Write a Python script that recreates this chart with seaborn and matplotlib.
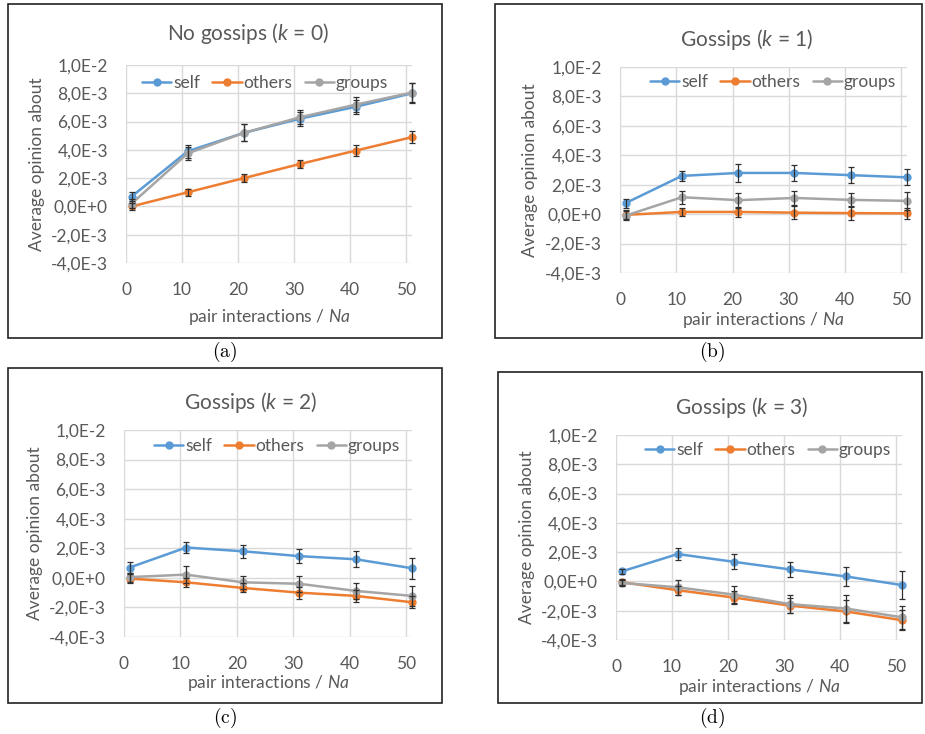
import pandas as pd
import seaborn as sns
import matplotlib.pyplot as plt
from matplotlib.patches import Rectangle

# ---- data ----
x_vals = [1, 11, 21, 31, 41, 51]
series_names = ["self", "others", "groups"]
panel_titles = ["No gossips ($k$ = 0)", "Gossips ($k$ = 1)",
                "Gossips ($k$ = 2)", "Gossips ($k$ = 3)"]
captions = ["(a)", "(b)", "(c)", "(d)"]
x_ticks = [0, 10, 20, 30, 40, 50]
y_ticks = [-4e-3, -2e-3, 0.0, 2e-3, 4e-3, 6e-3, 8e-3, 1e-2]
y_ticklabels = ["-4,0E-3", "-2,0E-3", "0,0E+0", "2,0E-3",
                "4,0E-3", "6,0E-3", "8,0E-3", "1,0E-2"]

# k = 0
k0_self = [0.70e-3, 3.90e-3, 5.20e-3, 6.20e-3, 7.05e-3, 8.00e-3]
k0_self_err = [0.30e-3, 0.45e-3, 0.60e-3, 0.50e-3, 0.50e-3, 0.70e-3]
k0_others = [0.00e-3, 1.00e-3, 2.00e-3, 3.00e-3, 3.95e-3, 4.90e-3]
k0_others_err = [0.25e-3, 0.25e-3, 0.30e-3, 0.30e-3, 0.40e-3, 0.40e-3]
k0_groups = [0.20e-3, 3.75e-3, 5.20e-3, 6.30e-3, 7.20e-3, 8.05e-3]
k0_groups_err = [0.30e-3, 0.45e-3, 0.60e-3, 0.50e-3, 0.55e-3, 0.70e-3]

# k = 1
k1_self = [0.75e-3, 2.60e-3, 2.80e-3, 2.80e-3, 2.65e-3, 2.50e-3]
k1_self_err = [0.30e-3, 0.35e-3, 0.60e-3, 0.55e-3, 0.55e-3, 0.55e-3]
k1_others = [-0.05e-3, 0.15e-3, 0.15e-3, 0.10e-3, 0.07e-3, 0.05e-3]
k1_others_err = [0.30e-3, 0.30e-3, 0.35e-3, 0.45e-3, 0.45e-3, 0.40e-3]
k1_groups = [-0.10e-3, 1.15e-3, 0.95e-3, 1.10e-3, 0.97e-3, 0.90e-3]
k1_groups_err = [0.30e-3, 0.45e-3, 0.50e-3, 0.50e-3, 0.50e-3, 0.60e-3]

# k = 2
k2_self = [0.70e-3, 2.05e-3, 1.80e-3, 1.47e-3, 1.26e-3, 0.65e-3]
k2_self_err = [0.35e-3, 0.40e-3, 0.45e-3, 0.45e-3, 0.55e-3, 0.70e-3]
k2_others = [-0.05e-3, -0.30e-3, -0.68e-3, -1.00e-3, -1.22e-3, -1.65e-3]
k2_others_err = [0.30e-3, 0.30e-3, 0.30e-3, 0.40e-3, 0.40e-3, 0.40e-3]
k2_groups = [0.05e-3, 0.22e-3, -0.30e-3, -0.40e-3, -0.88e-3, -1.22e-3]
k2_groups_err = [0.30e-3, 0.55e-3, 0.45e-3, 0.55e-3, 0.55e-3, 0.70e-3]

# k = 3
k3_self = [0.68e-3, 1.87e-3, 1.34e-3, 0.82e-3, 0.34e-3, -0.25e-3]
k3_self_err = [0.20e-3, 0.40e-3, 0.50e-3, 0.50e-3, 0.65e-3, 0.95e-3]
k3_others = [-0.05e-3, -0.60e-3, -1.10e-3, -1.65e-3, -2.05e-3, -2.65e-3]
k3_others_err = [0.20e-3, 0.30e-3, 0.45e-3, 0.50e-3, 0.80e-3, 0.70e-3]
k3_groups = [-0.10e-3, -0.40e-3, -0.90e-3, -1.55e-3, -1.85e-3, -2.45e-3]
k3_groups_err = [0.20e-3, 0.50e-3, 0.60e-3, 0.60e-3, 0.90e-3, 0.80e-3]

panels = [
    (k0_self, k0_self_err, k0_others, k0_others_err, k0_groups, k0_groups_err),
    (k1_self, k1_self_err, k1_others, k1_others_err, k1_groups, k1_groups_err),
    (k2_self, k2_self_err, k2_others, k2_others_err, k2_groups, k2_groups_err),
    (k3_self, k3_self_err, k3_others, k3_others_err, k3_groups, k3_groups_err),
]

colors = {"self": "#5B9BD5", "others": "#ED7D31", "groups": "#A5A5A5"}
text_col = "#595959"

# ---- layout in pixels (925 x 734 canvas) ----
W, H = 925, 734
# frame box, axes box (left, top, right, bottom), title (x, y), ylabel x, xlabel y, legend center, caption
layout = [
    dict(frame=(8, 4, 442, 338), ax=(126, 412, 65, 263), title=(248, 33), ylab=37, xlab=317, leg=(265, 83), cap=(225, 352)),
    dict(frame=(495, 4, 922, 338), ax=(620, 907, 67, 273), title=(747, 40), ylab=530, xlab=320, leg=(773, 82), cap=(712, 352)),
    dict(frame=(8, 368, 442, 703), ax=(124, 412, 430, 637), title=(251, 403), ylab=35, xlab=683, leg=(277, 446), cap=(225, 718)),
    dict(frame=(498, 372, 922, 703), ax=(616, 902, 435, 640), title=(742, 408), ylab=527, xlab=687, leg=(768, 450), cap=(712, 718)),
]

sns.set_style("white")
plt.rcParams["font.family"] = ["Lato", "DejaVu Sans"]
plt.rcParams["mathtext.fontset"] = "custom"
plt.rcParams["mathtext.rm"] = "Lato"
plt.rcParams["mathtext.it"] = "Lato:italic"

fig = plt.figure(figsize=(W / 100, H / 100), dpi=100)


def fx(px):
    return px / W


def fy(py):
    return 1 - py / H


for i, (vals, lay) in enumerate(zip(panels, layout)):
    fl, ft, fr, fb = lay["frame"]
    fig.add_artist(Rectangle((fx(fl), fy(fb)), fx(fr - fl), (fb - ft) / H,
                             transform=fig.transFigure, fill=False,
                             edgecolor="#222222", linewidth=1.2))
    fig.text(fx(lay["cap"][0]), fy(lay["cap"][1]), "$\\mathrm{" + captions[i] + "}$",
             ha="center", va="center", fontsize=14, math_fontfamily="cm", color="black")

    al, ar, at, ab = lay["ax"]
    ax = fig.add_axes([fx(al), fy(ab), fx(ar - al), (ab - at) / H])

    means = {"self": vals[0], "others": vals[2], "groups": vals[4]}
    errs = {"self": vals[1], "others": vals[3], "groups": vals[5]}
    df = pd.DataFrame({
        "x": x_vals * 3,
        "value": means["self"] + means["others"] + means["groups"],
        "series": [s for s in series_names for _ in x_vals],
    })
    sns.lineplot(data=df, x="x", y="value", hue="series", hue_order=series_names,
                 palette=colors, marker="o", markersize=6, markeredgewidth=0,
                 linewidth=1.8, errorbar=None, sort=False, clip_on=False, ax=ax)
    for s in series_names:
        eb = ax.errorbar(x_vals, means[s], yerr=errs[s], fmt="none", ecolor="#303030",
                         elinewidth=0.9, capsize=2.5, capthick=0.9, zorder=4)
        for art in eb.get_children():
            art.set_clip_on(False)

    ax.set_xlim(0, 51)
    ax.set_ylim(-4e-3, 1e-2)
    ax.set_xticks(x_ticks)
    ax.set_yticks(y_ticks)
    ax.set_yticklabels(y_ticklabels)
    ax.grid(True, color="#D9D9D9", linewidth=1)
    ax.set_axisbelow(True)
    for sp in ax.spines.values():
        sp.set_visible(False)
    ax.tick_params(length=0, labelsize=12.5, labelcolor=text_col)
    ax.tick_params(axis="y", pad=13)
    ax.tick_params(axis="x", pad=14)

    axw, axh = ar - al, ab - at
    ax.set_ylabel("Average opinion about", fontsize=12.5, color=text_col)
    ax.yaxis.set_label_coords((lay["ylab"] - al) / axw, 0.5)
    ax.yaxis.label.set_va("center")
    ax.set_xlabel("pair interactions / $\\mathit{Na}$", fontsize=12.5, color=text_col)
    ax.xaxis.set_label_coords(0.5, (ab - lay["xlab"]) / axh)
    ax.xaxis.label.set_va("center")
    fig.text(fx(lay["title"][0]), fy(lay["title"][1]), panel_titles[i], ha="center",
             va="center", fontsize=15, color=text_col)

    leg = ax.get_legend()
    handles = leg.legend_handles
    labels = [t.get_text() for t in leg.get_texts()]
    leg.remove()
    lx, ly = lay["leg"]
    ax.legend(handles, labels, loc="center", ncol=3, frameon=False,
              bbox_to_anchor=((lx - al) / axw, (ab - ly) / axh),
              fontsize=12.5, labelcolor=text_col, handlelength=1.7,
              handletextpad=0.1, columnspacing=0.7, borderaxespad=0)

fig.savefig("out.png", dpi=100)
